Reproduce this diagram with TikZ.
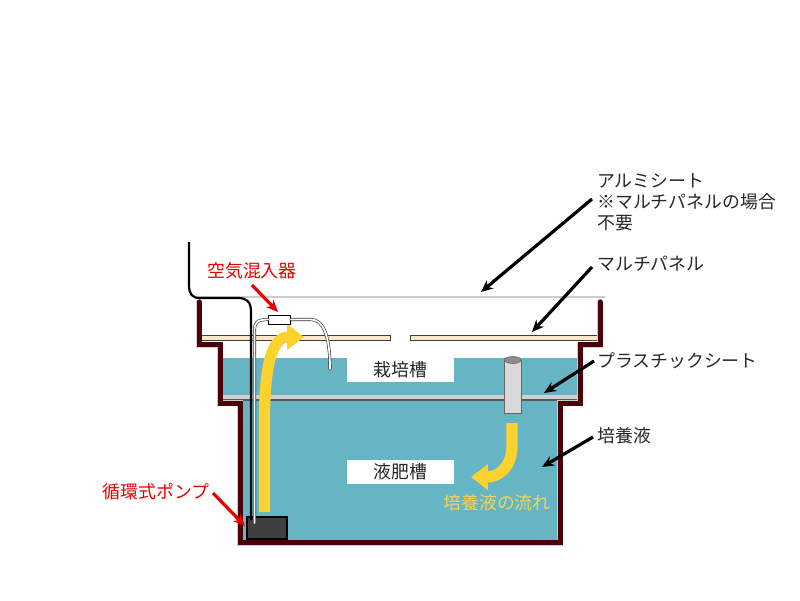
\documentclass[tikz,border=0pt]{standalone}
\usepackage{fontspec}
\setmainfont{Noto Sans CJK JP}
\usepackage{tikz}
\usetikzlibrary{arrows.meta,positioning}

\begin{document}
\begin{tikzpicture}[x=0.025cm,y=-0.025cm,
        every node/.style={font=\fontsize{12.7}{15}\selectfont,inner sep=0pt,text=black!85},
        label/.style={anchor=west,align=left},
        redlabel/.style={text=red!90!black},
        cutout/.style={fill=white,minimum width=2.68cm,minimum height=0.6cm},
        wall/.style={line join=miter,line cap=round},
        tube/.style={double=white,double distance=0.045cm,line width=0.45pt,draw=black!80,line cap=round},
        flow/.style={draw=flowyellow,line width=0.28cm,-{Triangle[length=0.42cm,width=0.62cm]}},
        leader/.style={-{Stealth[length=0.3cm,width=0.26cm]},line width=0.08cm}]
   \definecolor{water}{HTML}{66B5C5}
   \definecolor{wallred}{HTML}{4C0007}
   \definecolor{flowyellow}{HTML}{FDD22F}
   \definecolor{flowtext}{HTML}{F2D45A}
   \definecolor{panelcol}{HTML}{FCE8C8}
   \useasboundingbox (0,0) rectangle (800,600);

   % water
   \fill[water] (222,358) -- (580,358) -- (580,403) -- (560,403) -- (560,542)
        -- (240,542) -- (240,403) -- (222,403) -- cycle;
   \node (saibai) [cutout] at (400.5,370) {栽培槽};
   \node (ekihi) [cutout,below=2.55cm of saibai.center,anchor=center] {液肥槽};

   % sheets
   \draw[black!20,line width=0.05cm] (197,297) -- (605,297);
   \draw[black!75,fill=panelcol,line width=0.4pt] (200,335.5) rectangle (390,340);
   \draw[black!75,fill=panelcol,line width=0.4pt] (410,335.5) rectangle (600,340);
   \fill[black!18] (223,394.5) rectangle (578,399);
   \draw[black!65,line width=0.035cm] (223,400) -- (578,400);

   % tank
   \draw[wall,black!20,line width=0.17cm] (199,302) -- (199,345) -- (220,345) -- (220,403) -- (240,403)
        -- (240,543) -- (560,543) -- (560,403) -- (580,403) -- (580,345) -- (600,345) -- (600,302);
   \draw[wall,wallred,line width=0.125cm] (199,302) -- (199,344) -- (220,344) -- (220,403) -- (240,403)
        -- (240,542) -- (560,542) -- (560,403) -- (580,403) -- (580,344) -- (600,344) -- (600,302);

   % pipe
   \draw[black!60,fill=black!15,line width=0.4pt] (504.5,360) -- (504.5,413) -- (521,413) -- (521,360);
   \draw[black!60,fill=black!45,line width=0.4pt] (512.75,360) ellipse (8.25 and 3.5);

   % flow
   \coordinate (upS) at (264.5,512);
   \coordinate (upE) at (304,337);
   \coordinate (downS) at (512,423);
   \coordinate (downE) at (471,477);
   \draw[flow] (upS) -- (264.5,420) .. controls (264.5,365) and (272,337) .. (upE);
   \draw[flow] (downS) -- (512,445) .. controls (512,468) and (498,477) .. (downE);
   \node (nagare) [text=flowtext,anchor=center] at (497,503) {培養液の流れ};

   % pump, cable, mixer
   \node (pump) [draw=black,line width=0.05cm,fill=black!75,minimum width=0.98cm,minimum height=0.55cm] at (267,528) {};
   \node (mixer) [draw=black,line width=0.4pt,fill=white,minimum width=0.56cm,minimum height=0.22cm] at (279.5,319.5) {};
   \coordinate (cableS) at (189,242);
   \coordinate (cableE) at (251,520);
   \draw[black,line width=0.055cm,line join=round] (cableS) -- (189,285) .. controls (189,294) and (192,298) .. (200,298)
        -- (238,298) .. controls (247,298) and (251,302) .. (251,312) -- (cableE);
   \coordinate (tubeS) at (254.5,523);
   \coordinate (tubeE) at (330,369);
   \draw[tube] (tubeS) -- (254.5,330) .. controls (254.5,322) and (258,319.5) .. (mixer.west);
   \draw[tube] (mixer.east) -- (311,319.5) .. controls (323,319.5) and (330,335) .. (tubeE);

   % labels
   \node (alumi) [label] at (597,202) {アルミシート\\※マルチパネルの場合\\不要};
   \node (panel) [label] at (597,264) {マルチパネル};
   \node (plastic) [label] at (597,361) {プラスチックシート};
   \node (baiyou) [label] at (597,436) {培養液};
   \node (kuuki) [redlabel,anchor=center] at (252,271) {空気混入器};
   \node (junkan) [redlabel,anchor=center] at (156,492) {循環式ポンプ};

   \coordinate (alumiE) at (481,292);
   \coordinate (panelE) at (532,332);
   \coordinate (plasticE) at (544,393);
   \coordinate (baiyouE) at (542,467);
   \coordinate (kuukiS) at (252,285);
   \coordinate (kuukiE) at (278,312);
   \coordinate (junkanS) at (213,493);
   \coordinate (junkanE) at (245,526);
   \draw[leader] (592,199) -- (alumiE);
   \draw[leader] (592,267) -- (panelE);
   \draw[leader] (plastic.west) ++(-3,0) -- (plasticE);
   \draw[leader] (baiyou.west) ++(-4,1) -- (baiyouE);
   \draw[leader,red!90!black] (kuukiS) -- (kuukiE);
   \draw[leader,red!90!black] (junkanS) -- (junkanE);

\end{tikzpicture}
\end{document}
